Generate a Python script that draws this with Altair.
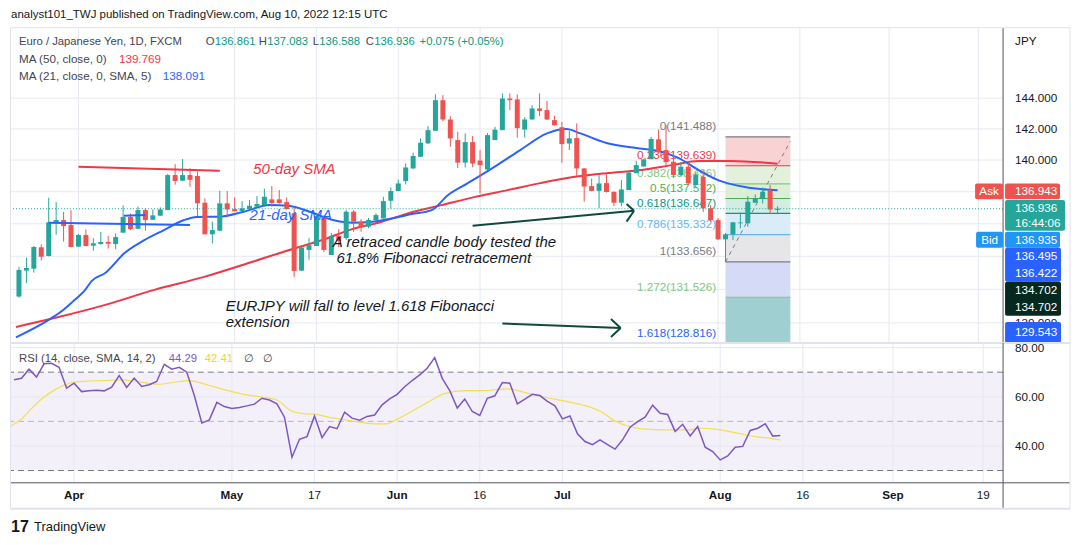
import altair as alt
import pandas as pd

# ---------------- values ----------------
OPEN = [131.57, 133.13, 133.25, 134.55, 134.02, 136.09, 136.23, 135.92, 134.59, 135.31,
        134.65, 134.75, 134.88, 134.75, 135.45, 136.42, 135.69, 136.85, 136.25, 136.50,
        136.85, 139.05, 138.69, 139.05, 138.99, 137.31, 135.35, 135.57, 137.27, 136.91,
        136.79, 136.91, 137.06, 137.16, 137.52, 137.52, 137.35, 136.66, 133.13, 134.39,
        134.63, 136.42, 134.08, 135.25, 135.12, 136.75, 136.13, 135.82, 136.23, 136.33,
        137.43, 138.04, 138.67, 139.47, 140.21, 141.07, 141.88, 143.87, 142.61, 141.28,
        139.84, 141.15, 139.97, 139.40, 141.28, 141.92, 143.98, 143.92, 141.96, 142.61,
        143.33, 143.22, 142.57, 142.11, 141.06, 141.41, 139.47, 138.35, 138.05, 138.54,
        137.99, 137.31, 138.10, 139.17, 139.59, 140.06, 141.33, 140.64, 139.89, 139.05,
        139.58, 138.42, 138.94, 136.96, 136.23, 135.04, 135.35, 136.03, 136.03, 137.31,
        137.58, 138.06, 136.861]
HIGH = [133.37, 133.92, 134.65, 134.73, 137.62, 137.35, 136.73, 136.85, 135.37, 135.65,
        135.11, 135.49, 135.25, 135.41, 137.14, 136.64, 137.06, 136.96, 136.89, 137.02,
        139.11, 139.74, 140.06, 139.47, 139.28, 137.58, 136.13, 138.06, 138.04, 137.64,
        137.41, 137.48, 137.73, 138.19, 138.35, 138.10, 137.64, 137.04, 134.57, 135.11,
        136.60, 136.54, 135.43, 135.67, 136.85, 136.85, 136.29, 136.36, 136.66, 137.68,
        138.27, 138.77, 139.79, 140.47, 141.39, 142.18, 144.26, 144.20, 142.83, 141.81,
        141.71, 141.54, 140.64, 141.73, 142.13, 144.31, 144.31, 144.24, 142.76, 143.54,
        144.31, 143.83, 142.86, 142.46, 141.86, 142.35, 139.49, 138.83, 139.09, 139.09,
        138.02, 138.73, 139.23, 139.95, 140.06, 141.49, 141.97, 142.24, 140.32, 139.87,
        139.81, 139.23, 139.36, 137.16, 136.36, 135.43, 136.11, 136.69, 137.73, 137.83,
        138.27, 138.42, 137.083]
LOW = [131.50, 132.37, 133.01, 133.74, 133.99, 135.33, 134.90, 134.55, 134.57, 134.60,
       134.35, 134.71, 134.47, 134.43, 135.45, 135.61, 135.69, 135.57, 136.25, 136.50,
       136.85, 138.44, 138.69, 138.31, 136.48, 135.35, 134.79, 135.57, 136.40, 136.77,
       136.79, 136.91, 137.06, 137.16, 137.06, 137.25, 136.88, 132.75, 133.11, 133.78,
       134.63, 134.26, 134.08, 134.57, 135.00, 135.51, 135.51, 135.73, 136.11, 136.33,
       136.96, 138.04, 138.46, 139.42, 140.21, 141.02, 141.88, 142.50, 140.85, 139.49,
       139.53, 139.55, 137.89, 139.36, 141.28, 141.92, 143.22, 141.43, 141.43, 142.61,
       142.83, 142.58, 142.20, 139.83, 140.64, 138.99, 137.37, 138.04, 136.96, 137.95,
       137.10, 137.10, 138.10, 139.17, 139.59, 140.06, 140.45, 139.62, 138.86, 138.99,
       138.42, 138.29, 136.73, 136.11, 135.00, 133.66, 135.00, 135.72, 135.82, 137.31,
       137.27, 136.62, 136.588]
CLOSE = [133.17, 133.29, 134.57, 133.98, 136.09, 136.23, 135.86, 134.57, 135.31, 134.63,
         134.80, 134.88, 134.77, 135.18, 136.42, 135.67, 136.85, 136.23, 136.52, 136.89,
         139.05, 138.67, 139.05, 138.75, 137.27, 135.35, 135.61, 137.27, 136.89, 136.77,
         136.96, 137.12, 137.23, 137.68, 137.29, 137.29, 136.91, 133.11, 134.53, 134.68,
         136.48, 134.39, 135.25, 134.94, 136.75, 136.13, 135.82, 136.23, 136.54, 137.41,
         138.04, 138.52, 139.53, 140.26, 141.11, 141.92, 143.87, 142.61, 141.39, 139.84,
         141.15, 139.78, 139.68, 141.60, 141.95, 143.98, 143.87, 142.05, 142.61, 143.33,
         143.17, 142.61, 142.24, 141.02, 141.39, 139.47, 138.33, 138.05, 138.52, 137.98,
         137.31, 138.14, 139.21, 139.68, 140.05, 141.35, 140.50, 139.87, 139.05, 139.58,
         138.52, 139.05, 136.96, 136.23, 135.04, 135.35, 136.09, 136.08, 137.37, 137.58,
         138.00, 136.89, 136.936]

MA50_I = [-0.4, 4.9, 11.6, 18.2, 24.9, 31.5, 36.8, 40.8, 44.8, 48.8, 52.4, 56.8, 61.2,
          65.7, 70.1, 74.5, 79.0, 83.4, 87.8, 91.4, 95.7, 102]
MA50_V = [129.76, 130.30, 131.07, 131.97, 132.75, 133.68, 134.45, 135.00, 135.67, 136.13,
          136.66, 137.16, 137.66, 138.10, 138.54, 138.92, 139.17, 139.36, 139.68, 139.94,
          139.94, 139.77]
MA21_I = [-0.4, 4.0, 6.0, 7.2, 8.9, 9.8, 11.6, 14.2, 16.9, 19.5,
          22.2, 23.9, 26.9, 30.2, 33.7, 36.4, 39.1, 42.2, 44.8, 47.5,
          50.1, 52.8, 55.5, 57.7, 60.3, 64.3, 67.4, 71.0, 73.6, 75.4,
          79.0, 83.0, 86.0, 88.7, 91.4, 94.0, 97.6, 102]
MA21_V = [129.15, 130.18, 130.78, 131.25, 131.97, 132.51, 132.99, 134.20, 135.00, 135.61,
          136.23, 136.42, 136.44, 136.75, 137.16, 137.10, 136.75, 136.23, 136.06, 136.13,
          136.33, 136.60, 136.85, 137.79, 138.52, 139.68, 140.64, 141.71, 141.99, 141.73,
          141.09, 140.77, 140.58, 140.13, 139.36, 138.73, 138.29, 138.09]

RSI = [66.9, 67.5, 71.2, 68.0, 73.4, 73.6, 72.0, 63.5, 65.5, 62.1,
       62.4, 62.6, 62.4, 63.9, 68.6, 63.8, 67.6, 64.2, 64.9, 66.2,
       73.2, 71.2, 72.0, 70.0, 60.5, 49.3, 50.6, 57.7, 56.0, 55.2,
       55.6, 56.3, 57.0, 59.4, 58.7, 57.1, 51.7, 35.4, 42.7, 43.8,
       52.2, 43.4, 47.9, 47.0, 53.7, 51.3, 50.5, 52.0, 52.6, 56.7,
       59.1, 61.0, 64.1, 66.6, 68.9, 71.6, 75.9, 67.5, 62.5, 55.4,
       59.1, 54.0, 52.4, 59.4, 60.4, 65.8, 65.5, 57.1, 59.0, 61.0,
       60.5, 58.1, 56.3, 51.0, 52.2, 44.9, 41.8, 40.5, 42.5, 40.5,
       38.7, 42.5, 47.6, 49.9, 51.7, 56.6, 53.3, 52.8, 45.9, 48.8,
       44.1, 47.9, 39.5, 37.7, 34.3, 35.9, 39.5, 39.8, 46.3, 47.2,
       49.0, 44.0, 44.29]
RSI_MA_I = [-0.4, 1.0, 2.4, 3.8, 5.6, 7.4, 9.3, 12.0, 14.3, 16.6,
            19.4, 21.1, 23.3, 25.8, 28.1, 30.3, 33.1, 35.0, 36.8, 38.6,
            40.0, 41.8, 44.1, 46.4, 48.3, 49.6, 51.0, 53.7, 55.6, 57.2,
            60.2, 62.5, 65.7, 68.0, 70.2, 73.2, 76.1, 78.1, 79.9, 82.3,
            84.0, 86.7, 89.6, 91.5, 93.4, 96.3, 98.7, 101.1, 102]
RSI_MA_V = [48.2, 50.9, 55.4, 59.4, 63.1, 65.5, 66.3, 66.6, 66.9, 66.1,
            65.1, 65.8, 66.6, 64.8, 62.8, 61.2, 59.8, 58.7, 54.4, 53.0,
            52.9, 51.7, 50.6, 49.5, 49.0, 49.0, 50.9, 55.4, 58.7, 61.2,
            62.5, 62.5, 63.2, 61.7, 60.1, 58.3, 56.3, 54.0, 50.3, 47.6,
            46.8, 46.5, 46.5, 47.2, 46.8, 45.2, 43.8, 42.9, 42.41]

DATE_POS = [8, 29, 40, 51, 62, 73, 94, 105, 117, 129]
DATE_LABELS = ["Apr", "May", "17", "Jun", "16", "Jul", "Aug", "16", "Sep", "19"]
DATE_BOLD = [True, True, False, True, False, True, True, False, True, False]

PRICE_GRID = [130, 132, 134, 136, 138, 140, 142, 144]
PRICE_LABELS = [130, 140, 142, 144]          # the others sit under the price tags
RSI_TICKS = [40, 60, 80]
RSI_LEVELS = [70, 50, 30]

FIB_RATIOS = ["0", "0.236", "0.382", "0.5", "0.618", "0.786", "1", "1.272", "1.618"]
FIB_LEVELS = [141.488, 139.639, 138.496, 137.572, 136.647, 135.332, 133.656, 131.526, 128.816]
FIB_LINE_COLORS = ["#787b86", "#f23645", "#81c784", "#4caf50", "#089981", "#64b5f6",
                   "#787b86", "#81c784", "#2962ff"]
FIB_ZONE_COLORS = ["#f9d3d4", "#e3f1dc", "#dcefd6", "#d3ede2", "#dbecf9", "#e6e6e8",
                   "#d5dbf6", "#9fcfd0"]
FIB_START, FIB_END, FIB_LABEL_AT = 95, 103.72, 93.75
FIB_TREND = [(95, 133.656), (103.7, 141.2)]

LAST_PRICE = 136.936
DRAWN_LINES = [  # i0, p0, i1, p1, colour
    (8.0, 139.57, 27.0, 139.32, "#f23645"),
    (4.0, 136.06, 23.0, 135.92, "#2962ff"),
    (14.1, 136.50, 17.0, 136.54, "#2962ff"),
]
ARROWS = [  # shaft start, tip, head back points
    ((61.0, 135.88), (82.7, 136.81), (81.7, 137.23), (81.7, 136.13)),
    ((65.0, 129.96), (80.9, 129.70), (79.6, 130.23), (79.6, 129.17)),
]
ANNOTATIONS = [  # text, i, price, colour
    ("50-day SMA", 31.5, 139.43, "#f23645"),
    ("21-day SMA", 31.0, 136.54, "#2962ff"),
    ("A retraced candle body tested the", 42.2, 134.88, "#131722"),
    ("61.8% Fibonacci retracement", 42.7, 133.90, "#131722"),
    ("EURJPY will fall to level 1.618 Fibonacci", 27.8, 131.01, "#131722"),
    ("extension", 27.8, 130.07, "#131722"),
]

# ---------------- styling ----------------
FONT = "Liberation Sans"
TXT = "#131722"
GREY = "#434651"
GRID = "#e6e9f0"
UP = "#26a69a"
DOWN = "#ef5350"
AXIS = "#50535e"
FRAME = "#e0e3eb"
W, H1, H2 = 993, 315, 140

XS = alt.Scale(domain=[-0.399, 131.649], nice=False, zero=False)
YS = alt.Scale(type="log", domain=[128.82, 148.66], nice=False)
RS = alt.Scale(domain=[25.0, 81.9], nice=False, zero=False)

ONE = pd.DataFrame({"k": [0]})


def X(f):
    return alt.X(f, scale=XS, axis=None)


def Y(f):
    return alt.Y(f, scale=YS, axis=None)


def R(f):
    return alt.Y(f, scale=RS, axis=None)


def ptext(txt, x, y, color=TXT, size=11.7, align="left", weight="normal", style="normal"):
    return alt.Chart(ONE).mark_text(text=txt, align=align, baseline="middle", fontSize=size,
                                    color=color, fontWeight=weight, fontStyle=style,
                                    font=FONT).encode(x=alt.value(x), y=alt.value(y))


def prect(x0, x1, y0, y1, color, radius=0):
    return alt.Chart(ONE).mark_rect(color=color, cornerRadius=radius).encode(
        x=alt.value(x0), x2=alt.value(x1), y=alt.value(y0), y2=alt.value(y1))


def prule(x0, y0, x1, y1, color, width=1):
    return alt.Chart(ONE).mark_rule(color=color, strokeWidth=width).encode(
        x=alt.value(x0), y=alt.value(y0), x2=alt.value(x1), y2=alt.value(y1))


N = len(CLOSE)
cdf = pd.DataFrame({"i": list(range(N)), "open": OPEN, "high": HIGH, "low": LOW, "close": CLOSE})
cdf["dir"] = ["up" if c >= o else "down" for o, c in zip(OPEN, CLOSE)]
dir_color = alt.Color("dir:N", scale=alt.Scale(domain=["up", "down"], range=[UP, DOWN]), legend=None)

tick_df = pd.DataFrame({"i": DATE_POS, "label": DATE_LABELS, "bold": DATE_BOLD})
pgrid_df = pd.DataFrame({"p": PRICE_GRID})
plabel_df = pd.DataFrame({"p": PRICE_LABELS, "label": [f"{p:.3f}" for p in PRICE_LABELS]})

zones = pd.DataFrame({"x0": FIB_START, "x1": FIB_END, "top": FIB_LEVELS[:-1],
                      "bot": FIB_LEVELS[1:], "color": FIB_ZONE_COLORS})
flines = pd.DataFrame({"x0": FIB_START, "x1": FIB_END, "lvl": FIB_LEVELS, "color": FIB_LINE_COLORS})
flabels = pd.DataFrame({"i": FIB_LABEL_AT, "lvl": FIB_LEVELS, "color": FIB_LINE_COLORS,
                        "label": [f"{r}({v:.3f})" for r, v in zip(FIB_RATIOS, FIB_LEVELS)]})
ftrend = pd.DataFrame({"i0": [FIB_TREND[0][0]], "p0": [FIB_TREND[0][1]],
                       "i1": [FIB_TREND[1][0]], "p1": [FIB_TREND[1][1]]})

drawn_df = pd.DataFrame([{"i0": a, "p0": b, "i1": c, "p1": d, "color": col}
                         for (a, b, c, d, col) in DRAWN_LINES])
arrow_rows = []
for s, t, h1, h2 in ARROWS:
    for a in (s, h1, h2):
        arrow_rows.append({"i0": a[0], "p0": a[1], "i1": t[0], "p1": t[1]})
arrow_df = pd.DataFrame(arrow_rows)
ann_df = pd.DataFrame(ANNOTATIONS, columns=["text", "i", "p", "color"])


def seg_layer(df, width, color=None, dash=None):
    kw = {"strokeWidth": width}
    if dash:
        kw["strokeDash"] = dash
    if color:
        kw["color"] = color
    enc = dict(x=X("i0:Q"), x2=alt.X2("i1:Q"), y=Y("p0:Q"), y2=alt.Y2("p1:Q"))
    if not color:
        enc["color"] = alt.Color("color:N", scale=None)
    return alt.Chart(df).mark_rule(**kw).encode(**enc)


LG = 11.3  # legend font size
top_layers = [
    alt.Chart(tick_df).mark_rule(color=GRID).encode(x=X("i:Q")),
    alt.Chart(pgrid_df).mark_rule(color=GRID).encode(y=Y("p:Q")),
    alt.Chart(zones).mark_rect().encode(x=X("x0:Q"), x2=alt.X2("x1:Q"), y=Y("top:Q"),
                                        y2=alt.Y2("bot:Q"), color=alt.Color("color:N", scale=None)),
    alt.Chart(flines).mark_rule(strokeWidth=1.2).encode(x=X("x0:Q"), x2=alt.X2("x1:Q"), y=Y("lvl:Q"),
                                                        color=alt.Color("color:N", scale=None)),
    seg_layer(ftrend, 1, color="#787b86", dash=[4, 4]),
    alt.Chart(flabels).mark_text(align="right", baseline="middle", dy=-10.5, fontSize=11.7, font=FONT).encode(
        x=X("i:Q"), y=Y("lvl:Q"), text="label:N", color=alt.Color("color:N", scale=None)),
    alt.Chart(pd.DataFrame({"i": MA50_I, "v": MA50_V})).mark_line(
        color="#f23645", strokeWidth=2, interpolate="monotone", clip=True).encode(x=X("i:Q"), y=Y("v:Q")),
    alt.Chart(pd.DataFrame({"i": MA21_I, "v": MA21_V})).mark_line(
        color="#2962ff", strokeWidth=2, interpolate="monotone", clip=True).encode(x=X("i:Q"), y=Y("v:Q")),
    alt.Chart(cdf).mark_rule(strokeWidth=1).encode(x=X("i:Q"), y=Y("low:Q"), y2=alt.Y2("high:Q"),
                                                    color=dir_color),
    alt.Chart(cdf).mark_bar(size=5).encode(x=X("i:Q"), y=Y("open:Q"), y2=alt.Y2("close:Q"),
                                           color=dir_color),
    seg_layer(drawn_df, 2),
    alt.Chart(pd.DataFrame({"p": [LAST_PRICE]})).mark_rule(color=UP, strokeDash=[1, 2]).encode(y=Y("p:Q")),
    seg_layer(arrow_df, 2, color="#0f4a3a"),
    alt.Chart(ann_df).mark_text(align="left", baseline="middle", fontSize=15, fontStyle="italic",
                                font=FONT).encode(x=X("i:Q"), y=Y("p:Q"), text="text:N",
                                                  color=alt.Color("color:N", scale=None)),
    # legend
    ptext("Euro / Japanese Yen, 1D, FXCM", 8, 14, GREY, LG),
    ptext("O", 195, 14, GREY, LG), ptext("136.861", 204, 14, "#089981", LG),
    ptext("H", 248, 14, GREY, LG), ptext("137.083", 256.5, 14, "#089981", LG),
    ptext("L", 302, 14, GREY, LG), ptext("136.588", 308.5, 14, "#089981", LG),
    ptext("C", 355, 14, GREY, LG), ptext("136.936", 363.5, 14, "#089981", LG),
    ptext("+0.075 (+0.05%)", 409, 14, "#089981", LG),
    ptext("MA (50, close, 0)", 8, 31, GREY), ptext("139.769", 108, 31, "#f23645"),
    ptext("MA (21, close, 0, SMA, 5)", 8, 48, GREY), ptext("138.091", 152, 48, "#2962ff"),
    # frame and price axis
    prule(-0.5, -0.5, 1060, -0.5, FRAME, 1),
    prule(-0.5, -0.5, -0.5, H1, FRAME, 1),
    prule(1060, -0.5, 1060, H1, FRAME, 1),
    prule(W, 0, W, H1, AXIS, 1),
    ptext("JPY", 1005, 13, TXT),
    alt.Chart(plabel_df).mark_text(align="left", baseline="middle", fontSize=11.7, font=FONT,
                                   color=TXT).encode(x=alt.value(1005), y=Y("p:Q"), text="label:N"),
    # price tags
    prect(965, 993, 155.3, 171.3, "#ef5350", 2), ptext("Ask", 979, 163.3, "white", align="center"),
    prect(995, 1050, 155.3, 171.3, "#ef5350", 2), ptext("136.943", 1005, 163.3, "white"),
    prect(995, 1055, 172, 202.7, "#26a69a", 2), ptext("136.936", 1005, 180, "white"),
    ptext("16:44:06", 1005, 195, "white"),
    prect(966, 993, 203.7, 219.7, "#2196f3", 2), ptext("Bid", 979.5, 211.7, "white", align="center"),
    prect(995, 1050, 203.7, 219.7, "#2196f3", 2), ptext("136.935", 1005, 211.7, "white"),
    prect(995, 1051, 219.7, 253.7, "#2962ff", 2), ptext("136.495", 1005, 228.3, "white"),
    ptext("136.422", 1005, 245, "white"),
    prect(995, 1051, 253.7, 287.7, "#06291f", 2), ptext("134.702", 1005, 262.3, "white"),
    ptext("134.702", 1005, 279, "white"),
    prect(995, 1051, 294, 314.7, "#2962ff", 2), ptext("129.543", 1005, 304, "white"),
    ptext("analyst101_TWJ published on TradingView.com, Aug 10, 2022 12:15 UTC", 0, -13.5, TXT, 11.5),
]
top = alt.layer(*top_layers).properties(width=W, height=H1)

rsi_df = pd.DataFrame({"i": list(range(N)), "r": RSI})
rsi_ma_df = pd.DataFrame({"i": RSI_MA_I, "r": RSI_MA_V})
rtick_df = pd.DataFrame({"r": RSI_TICKS, "label": [f"{r:.2f}" for r in RSI_TICKS]})

bottom_layers = [
    alt.Chart(pd.DataFrame({"a": [RSI_LEVELS[0]], "b": [RSI_LEVELS[2]]})).mark_rect(
        color="#7e57c2", opacity=0.09).encode(x=alt.value(0), x2=alt.value(W), y=R("a:Q"), y2=alt.Y2("b:Q")),
    alt.Chart(tick_df).mark_rule(color=GRID).encode(x=X("i:Q")),
    alt.Chart(rtick_df).mark_rule(color=GRID).encode(y=R("r:Q")),
    alt.Chart(pd.DataFrame({"r": [RSI_LEVELS[0], RSI_LEVELS[2]]})).mark_rule(
        color="#787b86", strokeDash=[6, 4]).encode(y=R("r:Q")),
    alt.Chart(pd.DataFrame({"r": [RSI_LEVELS[1]]})).mark_rule(
        color="#787b86", strokeDash=[6, 4], opacity=0.5).encode(y=R("r:Q")),
    alt.Chart(rsi_ma_df).mark_line(color="#f5df4d", strokeWidth=1.2, interpolate="monotone",
                                   clip=True).encode(x=X("i:Q"), y=R("r:Q")),
    alt.Chart(rsi_df).mark_line(color="#7e57c2", strokeWidth=1.5).encode(x=X("i:Q"), y=R("r:Q")),
    ptext("RSI (14, close, SMA, 14, 2)", 8, 16, GREY, LG),
    ptext("44.29", 158, 16, "#7e57c2", LG), ptext("42.41", 194, 16, "#f2d23a", LG),
    ptext("\u2205", 233, 16, GREY, LG), ptext("\u2205", 252, 16, GREY, LG),
    alt.Chart(rtick_df).mark_text(align="left", baseline="middle", fontSize=11.7, font=FONT,
                                  color=TXT).encode(x=alt.value(1005), y=R("r:Q"), text="label:N"),
    # separators, axes, frame
    prule(0, 0, 1060, 0, FRAME, 2),
    prule(W, 0, W, 166, AXIS, 1),
    prule(-0.5, 140, 1060, 140, AXIS, 1),
    prule(-0.5, 0, -0.5, 166, FRAME, 1),
    prule(1060, 0, 1060, 166, FRAME, 1),
    prule(-0.5, 166, 1060, 166, FRAME, 2),
    alt.Chart(tick_df).transform_filter("datum.bold").mark_text(
        baseline="middle", fontSize=11.7, fontWeight="bold", font=FONT, color=TXT).encode(
        x=X("i:Q"), y=alt.value(152), text="label:N"),
    alt.Chart(tick_df).transform_filter("!datum.bold").mark_text(
        baseline="middle", fontSize=11.7, font=FONT, color=TXT).encode(
        x=X("i:Q"), y=alt.value(152), text="label:N"),
    ptext("17", 0, 184, TXT, 16, weight="bold"),
    ptext("TradingView", 23, 184, TXT, 13),
]
bottom = alt.layer(*bottom_layers).properties(width=W, height=H2)

chart = alt.vconcat(top, bottom, spacing=0, bounds="flush").properties(
    padding={"left": 1, "top": 0, "right": 0, "bottom": 0}
).configure_view(strokeWidth=0)

chart.save("out.html", embed_options={"renderer": "svg", "actions": False})
